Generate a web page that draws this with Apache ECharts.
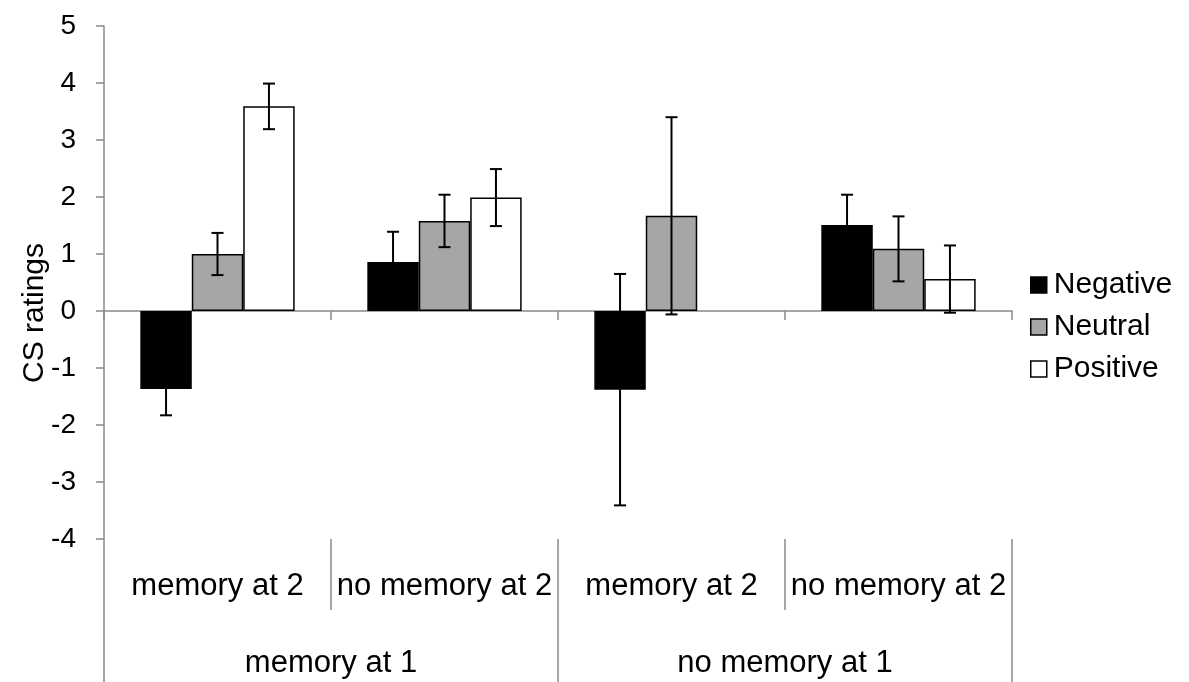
<!DOCTYPE html>
<html>
<head>
<meta charset="utf-8">
<script src="https://cdn.jsdelivr.net/npm/echarts@6/dist/echarts.min.js"></script>
<style>
html,body{margin:0;padding:0;background:#fff;}
#chart{width:1189px;height:682px;}
</style>
</head>
<body>
<div id="chart"></div>
<script>
const categories = ['memory at 2', 'no memory at 2', 'memory at 2', 'no memory at 2'];
const groups = ['memory at 1', 'no memory at 1'];
const seriesNames = ['Negative', 'Neutral', 'Positive'];
const negative = [-1.37, 0.86, -1.38, 1.51];
const neutral = [1.00, 1.58, 1.67, 1.09];
const positive = [3.59, 1.99, null, 0.56];
const negativeErr = [0.46, 0.53, 2.03, 0.53];
const neutralErr = [0.37, 0.46, 1.73, 0.57];
const positiveErr = [0.40, 0.50, null, 0.59];
const yTicks = [-4, -3, -2, -1, 0, 1, 2, 3, 4, 5];

const values = [negative, neutral, positive];
const errs = [negativeErr, neutralErr, positiveErr];
const fills = ['#000000', '#a6a6a6', '#ffffff'];
const GAP = 0.32;
const FONT = 'Liberation Sans, Arial, sans-serif';
const AXIS = '#898989';
const FS = 31;

const errData = [];
values.forEach((arr, k) => {
  arr.forEach((v, i) => {
    if (v !== null && errs[k][i] !== null) errData.push([i, v - errs[k][i], v + errs[k][i], k]);
  });
});

const chart = echarts.init(document.getElementById('chart'), null, {renderer: 'canvas'});
const option = {
  backgroundColor: '#fff',
  animation: false,
  textStyle: {fontFamily: FONT},
  grid: {left: 104, right: 177, top: 26, bottom: 143},
  legend: {
    orient: 'vertical', left: 1025, top: 265,
    itemWidth: 16, itemHeight: 16, itemGap: 12,
    icon: 'rect',
    textStyle: {fontSize: 30, color: '#000', fontFamily: FONT, lineHeight: 30, padding: [0, 0, 0, 2]},
    data: seriesNames.map((n, k) => ({name: n, itemStyle: {color: fills[k], borderColor: '#000', borderWidth: 1.5}}))
  },
  xAxis: [
    {
      type: 'category', data: categories, gridIndex: 0,
      axisLine: {onZero: true, lineStyle: {color: AXIS, width: 1.5}},
      axisTick: {show: true, length: 9, lineStyle: {color: AXIS, width: 1.5}},
      axisLabel: {show: false}
    },
    {
      type: 'category', data: categories, position: 'bottom',
      axisLine: {show: false, onZero: false},
      axisTick: {show: true, length: 71, lineStyle: {color: AXIS, width: 1.5}},
      axisLabel: {show: true, margin: 32, fontSize: FS, color: '#000', fontFamily: FONT, interval: 0}
    },
    {
      type: 'category', data: groups, position: 'bottom',
      axisLine: {show: false, onZero: false},
      axisTick: {show: true, length: 143, lineStyle: {color: AXIS, width: 1.5}},
      axisLabel: {show: true, margin: 109, fontSize: FS, color: '#000', fontFamily: FONT, interval: 0}
    }
  ],
  yAxis: {
    type: 'value', min: -4, max: 5, interval: 1,
    axisLine: {show: true, lineStyle: {color: AXIS, width: 1.5}},
    axisTick: {show: true, length: 8, lineStyle: {color: AXIS, width: 1.5}},
    splitLine: {show: false},
    axisLabel: {fontSize: 28, color: '#000', margin: 28, fontFamily: FONT,
      formatter: v => yTicks.includes(v) ? String(v) : ''}
  },
  graphic: [{
    type: 'text', x: 35, y: 313, rotation: Math.PI / 2,
    style: {text: 'CS ratings', fontSize: 30, fill: '#000', fontFamily: FONT, textAlign: 'center', textVerticalAlign: 'middle'}
  }],
  series: [
    ...seriesNames.map((n, k) => ({
      name: n, type: 'bar', xAxisIndex: 0, data: values[k],
      barGap: '0%', barCategoryGap: (GAP * 100) + '%',
      itemStyle: {color: fills[k], borderColor: '#000', borderWidth: 1.5},
      z: 2
    })),
    {
      type: 'custom', xAxisIndex: 0, data: errData, z: 5,
      renderItem: function (params, api) {
        const ci = api.value(0), lo = api.value(1), hi = api.value(2), k = api.value(3);
        const bw = api.size([1, 0])[0] * (1 - GAP) / 3;
        const x = api.coord([ci, 0])[0] + (k - 1) * bw;
        const yl = api.coord([ci, lo])[1], yh = api.coord([ci, hi])[1];
        const st = {stroke: '#000', lineWidth: 2};
        return {type: 'group', children: [
          {type: 'line', shape: {x1: x, y1: yl, x2: x, y2: yh}, style: st},
          {type: 'line', shape: {x1: x - 6, y1: yl, x2: x + 6, y2: yl}, style: st},
          {type: 'line', shape: {x1: x - 6, y1: yh, x2: x + 6, y2: yh}, style: st}
        ]};
      }
    }
  ]
};
chart.setOption(option);
</script>
</body>
</html>
